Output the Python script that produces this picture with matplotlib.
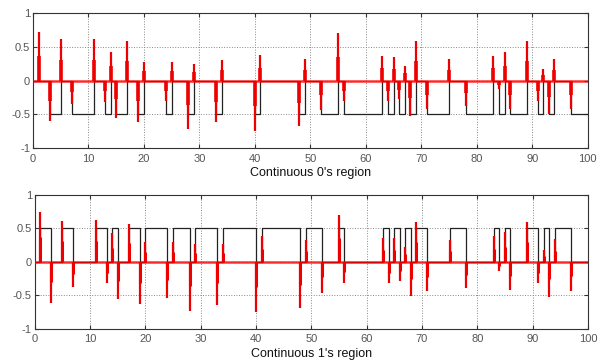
import numpy as np
import matplotlib.pyplot as plt

# transition times of the bit stream (segment edges)
edges = [0, 1, 3, 5, 7, 11, 13, 14, 15, 17, 19, 20, 24, 25, 28, 29, 33, 34, 40, 41,
         48, 49, 52, 55, 56, 63, 64, 65, 66, 67, 68, 69, 71, 75, 78, 83, 84, 85, 86,
         89, 91, 92, 93, 94, 97, 100]

# level of the black signal on each segment
top_levels = [0, 0, -0.5, 0, -0.5, 0, -0.5, 0, -0.5, 0, -0.5, 0, -0.5, 0, -0.5,
              0, -0.5, 0, -0.5, 0, -0.5, 0, -0.5, 0, -0.5, 0, -0.5, 0, -0.5, 0,
              -0.5, 0, -0.5, 0, -0.5, 0, -0.5, 0, -0.5, 0, -0.5, 0, -0.5, 0, -0.5]
bot_levels = [0, 0.5, 0, 0.5, 0, 0.5, 0, 0.5, 0, 0.5, 0, 0.5, 0, 0.5, 0,
              0.5, 0, 0.5, 0, 0.5, 0, 0.5, 0, 0.5, 0, 0.5, 0, 0.5, 0, 0.5,
              0, 0.5, 0, 0.5, 0, 0.5, 0, 0.5, 0, 0.5, 0, 0.5, 0, 0.5, 0]

# red spikes at the transitions
spike_x = [1, 3, 5, 7, 11, 13, 14, 15, 17, 19, 20, 24, 25, 28, 29, 33, 34, 40, 41,
           48, 49, 52, 55, 56, 63, 64, 65, 66, 67, 68, 69, 71, 75, 78, 83, 84, 85,
           86, 89, 91, 92, 93, 94, 97]
spike_top = [0.72, -0.6, 0.61, -0.35, 0.62, -0.31, 0.42, -0.55, 0.58, -0.61, 0.28,
             -0.3, 0.28, -0.71, 0.25, -0.62, 0.3, -0.74, 0.38, -0.67, 0.32, -0.44,
             0.7, -0.3, 0.36, -0.3, 0.35, -0.27, 0.22, -0.52, 0.58, -0.42, 0.32,
             -0.37, 0.36, -0.12, 0.43, -0.42, 0.59, -0.3, 0.17, -0.5, 0.32, -0.42]
spike_bot = [0.74, -0.61, 0.61, -0.37, 0.63, -0.32, 0.43, -0.56, 0.57, -0.63, 0.29,
             -0.54, 0.29, -0.73, 0.26, -0.64, 0.27, -0.75, 0.38, -0.69, 0.32, -0.46,
             0.7, -0.31, 0.36, -0.32, 0.36, -0.28, 0.23, -0.51, 0.59, -0.44, 0.33,
             -0.39, 0.38, -0.13, 0.45, -0.42, 0.6, -0.32, 0.18, -0.52, 0.34, -0.43]

labels = ["Continuous 0's region", "Continuous 1's region"]

plt.rcParams['font.family'] = ['Liberation Sans', 'DejaVu Sans']

fig = plt.figure(figsize=(6.05, 3.63), dpi=100)
ax1 = fig.add_axes([0.0545, 0.592, 0.917, 0.372])
ax2 = fig.add_axes([0.0573, 0.094, 0.9145, 0.369])

for ax, levels, spikes, lab, wide in [(ax1, top_levels, spike_top, labels[0], 2.6),
                                      (ax2, bot_levels, spike_bot, labels[1], 2.2)]:
    ax.step(edges, levels + [levels[-1]], where='post', color='#222222', lw=0.9, zorder=2)
    ax.axhline(0, color='red', lw=1.8, alpha=0.8, zorder=3)
    sx = np.array(spike_x)
    sh = np.array(spikes)
    ax.vlines(sx, 0, sh, color='#ee0000', lw=1.6, zorder=4)
    ax.vlines(sx, 0, sh / 2, color='#ee0000', lw=wide, zorder=4)

    ax.set_xlim(0, 100)
    ax.set_ylim(-1, 1)
    ax.set_xticks(range(0, 101, 10))
    ax.set_yticks([-1, -0.5, 0, 0.5, 1])
    ax.set_yticklabels(['-1', '-0.5', '0', '0.5', '1'])
    ax.grid(True, linestyle=':', color='#888888', lw=0.7)
    ax.tick_params(direction='in', length=3, top=True, right=True,
                   labelsize=8, colors='#333333', labelcolor='#555555')
    ax.tick_params(axis='x', pad=4)
    ax.tick_params(axis='y', pad=2)
    for s in ax.spines.values():
        s.set_color('#333333')
        s.set_linewidth(0.8)
    ax.set_xlabel(lab, fontsize=9, labelpad=2.5, color='#111111')

plt.savefig('out.png', dpi=100)
